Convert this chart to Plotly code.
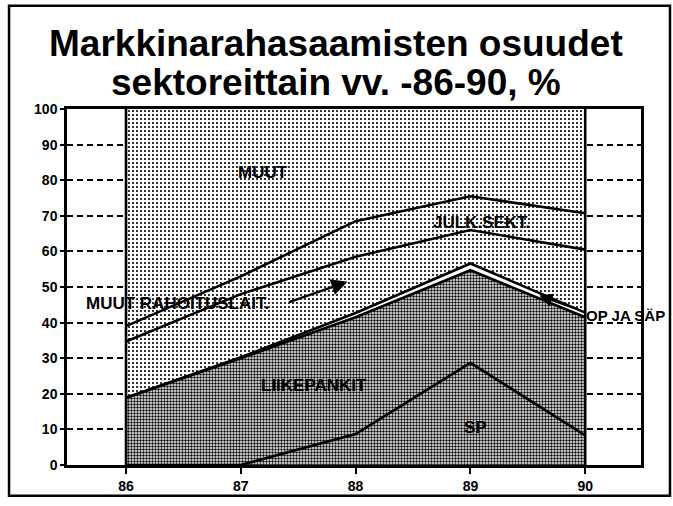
import numpy as np
import plotly.graph_objects as go

# ---- data (shares per sector, %) ----
YEARS = [86, 87, 88, 89, 90]
YEAR_LABELS = ["86", "87", "88", "89", "90"]
SP = [0.0, 0.0, 8.7, 28.7, 8.3]
LIIKEPANKIT = [18.9, 30.0, 32.8, 26.0, 33.2]
OP_JA_SAP = [0.0, 0.3, 1.2, 1.9, 1.3]
MUUT_RAHOITUSLAIT = [15.8, 17.7, 15.8, 9.4, 17.7]
JULK_SEKT = [4.3, 5.0, 10.0, 9.5, 10.2]
Y_TICKS = [0, 10, 20, 30, 40, 50, 60, 70, 80, 90, 100]

c1 = np.array(SP)
c2 = c1 + np.array(LIIKEPANKIT)
c3 = c2 + np.array(OP_JA_SAP)
c4 = c3 + np.array(MUUT_RAHOITUSLAIT)
c5 = c4 + np.array(JULK_SEKT)
MUUT = 100 - c5
c6 = c5 + MUUT

FONT = "Liberation Sans, Arial, sans-serif"
LW = 2.6

fig = go.Figure()
# whole stacked area (MUUT etc) - sparse dots
fig.add_trace(go.Scatter(
    x=YEARS, y=c6, mode="lines", line=dict(width=0, color="black"),
    fill="tozeroy",
    fillpattern=dict(shape=".", size=4, solidity=0.22, fgcolor="black",
                     bgcolor="white", fillmode="replace"),
    hoverinfo="skip"))
# LIIKEPANKIT + SP - dense dots
fig.add_trace(go.Scatter(
    x=YEARS, y=c2, mode="lines", line=dict(width=LW, color="black"),
    fill="tozeroy",
    fillpattern=dict(shape=".", size=3, solidity=0.5, fgcolor="black",
                     bgcolor="white", fillmode="replace"),
    hoverinfo="skip"))
# OP ja SÄP band (white gap)
fig.add_trace(go.Scatter(
    x=YEARS, y=c3, mode="lines", line=dict(width=LW, color="black"),
    fill="tonexty", fillcolor="white", hoverinfo="skip"))
# SP line
fig.add_trace(go.Scatter(
    x=YEARS, y=c1, mode="lines", line=dict(width=LW, color="black"),
    hoverinfo="skip"))
# MUUT RAHOITUSLAIT top
fig.add_trace(go.Scatter(
    x=YEARS, y=c4, mode="lines", line=dict(width=LW, color="black"),
    hoverinfo="skip"))
# JULK.SEKT top
fig.add_trace(go.Scatter(
    x=YEARS, y=c5, mode="lines", line=dict(width=LW, color="black"),
    hoverinfo="skip"))

shapes = []
for xv in (YEARS[0], YEARS[-1]):
    shapes.append(dict(type="line", xref="x", yref="y", x0=xv, x1=xv,
                       y0=Y_TICKS[0], y1=Y_TICKS[-1],
                       line=dict(color="black", width=LW)))
# outer frame of the picture
shapes.append(dict(type="rect", xref="paper", yref="paper",
                   x0=-0.101, x1=1.0505, y0=-0.0864, y1=1.2897,
                   line=dict(color="black", width=2.5)))

lab = dict(family=FONT, size=17, color="black", weight="bold")
annotations = [
    dict(text="Markkinarahasaamisten osuudet", x=0.4695, y=1.184,
         xref="paper", yref="paper", showarrow=False, yanchor="middle",
         font=dict(family=FONT, size=37, color="black", weight="bold")),
    dict(text="sektoreittain vv. -86-90, %", x=0.4695, y=1.074,
         xref="paper", yref="paper", showarrow=False, yanchor="middle",
         font=dict(family=FONT, size=37, color="black", weight="bold")),
    dict(text="MUUT", x=87.19, y=82.2, showarrow=False, font=lab),
    dict(text="JULK.SEKT.", x=89.10, y=68.2, showarrow=False, font=lab),
    dict(text="MUUT RAHOITUSLAIT.", x=86.45, y=45.4, showarrow=False, font=lab),
    dict(text="LIIKEPANKIT", x=87.64, y=22.3, showarrow=False, font=lab),
    dict(text="SP", x=89.04, y=10.6, showarrow=False, font=lab),
    dict(text="OP JA SÄP", x=90.35, y=42.1, showarrow=False,
         font=dict(family=FONT, size=15, color="black", weight="bold")),
    dict(text="", x=87.93, y=51.5, ax=-60, ay=21, showarrow=True,
         arrowhead=2, arrowsize=1.3, arrowwidth=2.5, arrowcolor="black"),
    dict(text="", x=89.60, y=47.6, ax=36, ay=13, showarrow=True,
         arrowhead=2, arrowsize=1.2, arrowwidth=2.2, arrowcolor="black"),
]

fig.update_layout(
    width=673, height=506,
    margin=dict(l=67, r=32, t=109, b=38),
    paper_bgcolor="white", plot_bgcolor="white",
    showlegend=False, hovermode=False,
    shapes=shapes, annotations=annotations,
    xaxis=dict(range=[85.486, 90.486], tickvals=YEARS, ticktext=YEAR_LABELS,
               showgrid=False, zeroline=False, showline=True, mirror=True,
               linecolor="black", linewidth=2.5, ticks="outside", ticklen=6,
               tickwidth=2, tickcolor="black",
               tickfont=dict(family=FONT, size=14, color="black", weight="bold")),
    yaxis=dict(range=[0, 100], tickvals=Y_TICKS,
               showgrid=True, gridcolor="black", gridwidth=2.2,
               griddash="6px,4px", zeroline=False, showline=True, mirror=True,
               linecolor="black", linewidth=2.5, ticks="outside", ticklen=4,
               tickwidth=2, tickcolor="black",
               tickfont=dict(family=FONT, size=14, color="black", weight="bold")),
)

fig.write_html("out.html", config={"displayModeBar": False},
               post_script="document.body.style.margin='0px';document.body.style.padding='0px';")
